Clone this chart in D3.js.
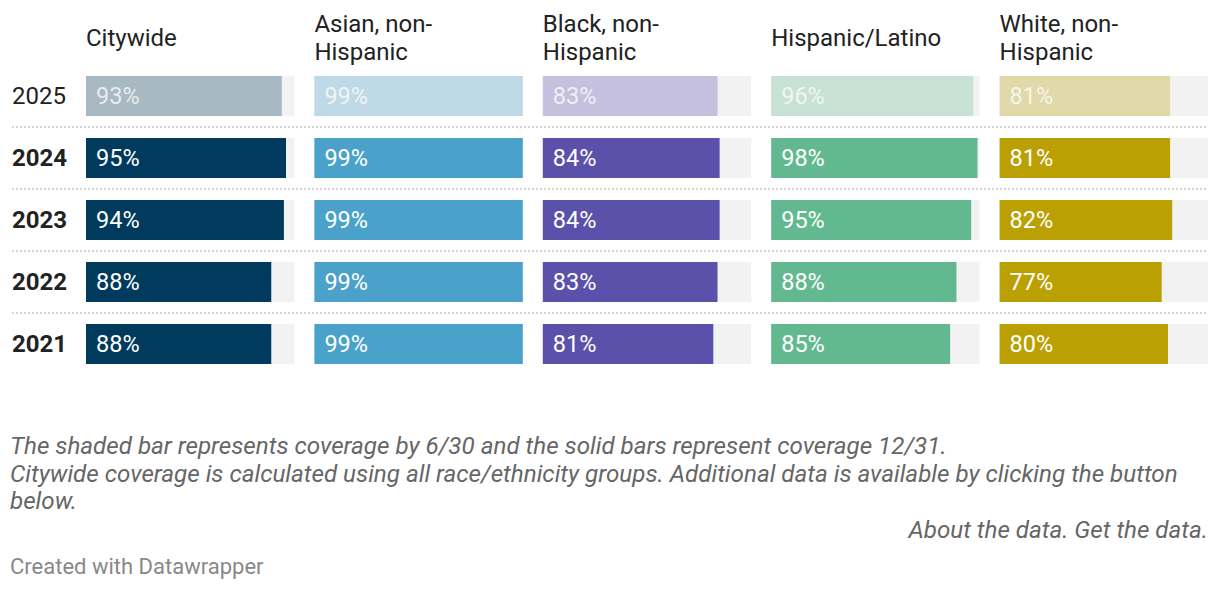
<!DOCTYPE html>
<html>
<head>
<meta charset="utf-8">
<script src="https://cdn.jsdelivr.net/npm/d3@7"></script>
<style>
  body { margin: 0; background: #fff; }
  text { font-family: Roboto, "Noto Sans", sans-serif; }
</style>
</head>
<body>
<div id="chart"></div>
<script>
var svgWidth = 1220;
var svgHeight = 590;

// data
var groups = ["Citywide", "Asian, non-Hispanic", "Black, non-Hispanic", "Hispanic/Latino", "White, non-Hispanic"];
var headerLines = [["Citywide"], ["Asian, non-", "Hispanic"], ["Black, non-", "Hispanic"], ["Hispanic/Latino"], ["White, non-", "Hispanic"]];
var years = ["2025", "2024", "2023", "2022", "2021"];

var citywide = [93, 95, 94, 88, 88];
var asian = [99, 99, 99, 99, 99];
var black = [83, 84, 84, 83, 81];
var hispanic = [96, 98, 95, 88, 85];
var white = [81, 81, 82, 77, 80];
var series = [citywide, asian, black, hispanic, white];

var solidColors = ["#003a5d", "#4aa2cb", "#5b51ab", "#63b98f", "#bba004"];
var shadedColors = ["#a8b9c3", "#c0d9e6", "#c4c0dd", "#c7e2d5", "#e1d9aa"];

var footNotes = [
    "The shaded bar represents coverage by 6/30 and the solid bars represent coverage 12/31.",
    "Citywide coverage is calculated using all race/ethnicity groups. Additional data is available by clicking the button",
    "below."
];

var svg = d3.select("#chart")
    .append("svg")
    .attr("width", svgWidth)
    .attr("height", svgHeight);

var colScale = d3.scaleBand()
    .domain(groups)
    .range([86, 1208])
    .paddingInner(0.0875);

var rowScale = d3.scaleBand()
    .domain(years)
    .range([76, 364])
    .paddingInner(0.355);

var valueScale = d3.scaleLinear()
    .domain([0, 99])
    .range([0, colScale.bandwidth()]);

// headers
groups.forEach((g, i) => {
    var lines = headerLines[i];
    var t = svg.append("text")
        .attr("x", colScale(g))
        .attr("fill", "#222")
        .attr("font-size", "24px");
    var top = 38 - (lines.length - 1) * 14;
    lines.forEach((l, j) => {
        t.append("tspan")
            .attr("x", colScale(g))
            .attr("y", top + j * 28)
            .attr("dy", "0.35em")
            .text(l);
    });
});

// separators
years.slice(1).forEach(y => {
    var sy = rowScale(y) - (rowScale.step() - rowScale.bandwidth()) / 2;
    svg.append("line")
        .attr("x1", 12)
        .attr("x2", 1208)
        .attr("y1", sy)
        .attr("y2", sy)
        .attr("stroke", "#c8c8c8")
        .attr("stroke-width", 1.5)
        .attr("stroke-dasharray", "2,2");
});

// year labels
svg.selectAll(".yearLabel")
    .data(years)
    .enter()
    .append("text")
    .attr("class", "yearLabel")
    .attr("x", 12)
    .attr("y", d => rowScale(d) + rowScale.bandwidth() / 2)
    .attr("dy", "0.35em")
    .attr("font-size", "24px")
    .attr("font-weight", (d, i) => i === 0 ? "normal" : "bold")
    .attr("fill", "#222")
    .text(d => d);

// bars
groups.forEach((g, gi) => {
    var col = svg.append("g")
        .attr("transform", `translate(${colScale(g)}, 0)`);

    col.selectAll(".bg")
        .data(years)
        .enter()
        .append("rect")
        .attr("class", "bg")
        .attr("x", 0)
        .attr("y", d => rowScale(d))
        .attr("width", colScale.bandwidth())
        .attr("height", rowScale.bandwidth())
        .attr("fill", "#f2f2f2");

    col.selectAll(".bar")
        .data(series[gi])
        .enter()
        .append("rect")
        .attr("class", "bar")
        .attr("x", 0)
        .attr("y", (d, i) => rowScale(years[i]))
        .attr("width", d => valueScale(d))
        .attr("height", rowScale.bandwidth())
        .attr("fill", (d, i) => i === 0 ? shadedColors[gi] : solidColors[gi]);

    col.selectAll(".val")
        .data(series[gi])
        .enter()
        .append("text")
        .attr("class", "val")
        .attr("x", 10)
        .attr("y", (d, i) => rowScale(years[i]) + rowScale.bandwidth() / 2)
        .attr("dy", "0.36em")
        .attr("font-size", "23.5px")
        .attr("fill", "#fff")
        .attr("fill-opacity", (d, i) => i === 0 ? 0.75 : 1)
        .text(d => d + "%");
});

// notes
svg.selectAll(".note")
    .data(footNotes)
    .enter()
    .append("text")
    .attr("class", "note")
    .attr("x", 10)
    .attr("y", (d, i) => 454 + i * 27.5)
    .attr("font-size", "24.2px")
    .attr("font-style", "italic")
    .attr("fill", "#666")
    .text(d => d);

svg.append("text")
    .attr("x", 1208)
    .attr("y", 538)
    .attr("text-anchor", "end")
    .attr("font-size", "24.2px")
    .attr("font-style", "italic")
    .attr("fill", "#666")
    .text("About the data. Get the data.");

svg.append("text")
    .attr("x", 10)
    .attr("y", 574)
    .attr("font-size", "22px")
    .attr("fill", "#888")
    .text("Created with Datawrapper");
</script>
</body>
</html>
